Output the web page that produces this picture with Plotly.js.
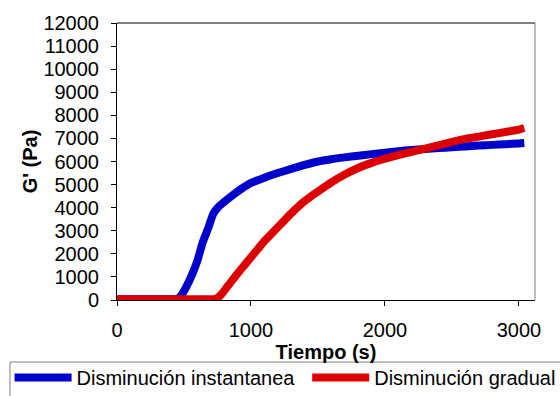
<!DOCTYPE html>
<html>
<head>
<meta charset="utf-8">
<script src="https://cdn.plot.ly/plotly-3.0.1.min.js"></script>
<style>html,body{margin:0;padding:0;background:#fff;}#chart{width:560px;height:396px;}</style>
</head>
<body>
<div id="chart"></div>
<script>
var seriesNames = ["Disminución instantanea", "Disminución gradual"];
var tiempoInst = [0, 100, 200, 300, 400, 450, 480, 520, 560, 600, 640, 680, 720, 760, 800, 850, 900, 950, 1000, 1100, 1200, 1300, 1400, 1500, 1600, 1700, 1800, 1900, 2000, 2100, 2200, 2300, 2400, 2500, 2600, 2700, 2800, 2900, 3000, 3040];
var gInst = [30, 30, 30, 30, 30, 40, 200, 600, 1100, 1700, 2500, 3100, 3750, 4050, 4250, 4480, 4700, 4900, 5070, 5300, 5500, 5680, 5850, 6000, 6100, 6180, 6250, 6320, 6380, 6450, 6500, 6540, 6580, 6620, 6650, 6690, 6720, 6750, 6780, 6800];
var tiempoGrad = [0, 100, 200, 300, 400, 500, 600, 700, 740, 780, 820, 860, 900, 950, 1000, 1050, 1100, 1150, 1200, 1250, 1300, 1350, 1400, 1450, 1500, 1550, 1600, 1700, 1800, 1900, 2000, 2100, 2200, 2300, 2400, 2500, 2600, 2700, 2800, 2900, 3000, 3040];
var gGrad = [30, 30, 30, 30, 30, 30, 30, 30, 60, 250, 550, 850, 1150, 1500, 1850, 2200, 2550, 2850, 3150, 3450, 3750, 4030, 4280, 4500, 4700, 4900, 5100, 5440, 5720, 5940, 6120, 6280, 6420, 6560, 6700, 6850, 6980, 7080, 7180, 7280, 7380, 7450];
var xTicks = [0, 1000, 2000, 3000];
var yTicks = [0, 1000, 2000, 3000, 4000, 5000, 6000, 7000, 8000, 9000, 10000, 11000, 12000];

var FONT = "Liberation Sans, Arial, sans-serif";
var traces = [
  {x: tiempoInst, y: gInst, name: seriesNames[0], mode: "lines", legend: "legend", line: {color: "#0000cc", width: 8, shape: "spline", smoothing: 0.5}},
  {x: tiempoGrad, y: gGrad, name: seriesNames[1], mode: "lines", legend: "legend2", line: {color: "#dd0000", width: 8, shape: "spline", smoothing: 0.5}}
];
var legBase = {orientation: "h", xanchor: "left", yanchor: "top", y: -0.209,
               borderwidth: 0, bgcolor: "rgba(0,0,0,0)",
               font: {family: FONT, size: 20, color: "#000"}, itemwidth: 57};
var layout = {
  width: 560, height: 396,
  margin: {l: 117, r: 25, t: 23, b: 96, autoexpand: false},
  paper_bgcolor: "#fff", plot_bgcolor: "#fff",
  font: {family: FONT, size: 20, color: "#000"},
  showlegend: true,
  legend: Object.assign({}, legBase, {x: -0.257}),
  legend2: Object.assign({}, legBase, {x: 0.455}),
  xaxis: {range: [0, 3120], tickvals: xTicks, ticktext: xTicks.map(String), ticks: "outside", ticklen: 5,
          tickcolor: "#000", showline: true, linecolor: "#000", linewidth: 1, showgrid: false, zeroline: false,
          ticklabelstandoff: 7, tickfont: {size: 20},
          title: {text: "<b>Tiempo (s)</b>", font: {size: 20}, standoff: 0}},
  yaxis: {range: [0, 12000], tickvals: yTicks, ticktext: yTicks.map(String), ticks: "outside", ticklen: 5,
          tickcolor: "#000", showline: true, linecolor: "#000", linewidth: 1, showgrid: false, zeroline: false,
          ticklabelstandoff: 8, tickfont: {size: 20},
          title: {text: "<b>G' (Pa)</b>", font: {size: 20}, standoff: 0}},
  shapes: [
    {type: "line", xref: "paper", yref: "paper", x0: 0, x1: 1, y0: 1, y1: 1, line: {color: "#000", width: 1}},
    {type: "line", xref: "paper", yref: "paper", x0: 1, x1: 1, y0: 0, y1: 1, line: {color: "#808080", width: 1}},
    {type: "rect", xref: "paper", yref: "paper", x0: -0.256, x1: 1.2, y0: -0.224, y1: -0.5,
     fillcolor: "#fff", line: {color: "#808080", width: 1}}
  ]
};
Plotly.newPlot("chart", traces, layout, {staticPlot: true, displayModeBar: false});
</script>
</body>
</html>
